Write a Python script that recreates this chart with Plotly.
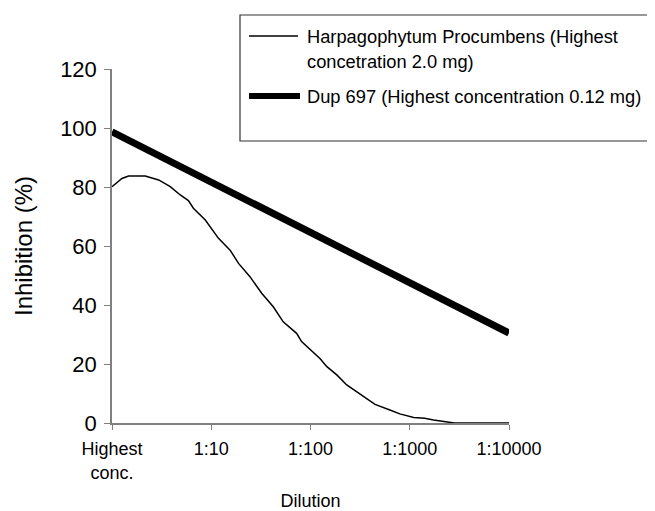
import plotly.graph_objects as go

# ---- data ----
dilution_ticks = [0, 1, 2, 3, 4]
dilution_labels = ["Highest<br>conc.", "1:10", "1:100", "1:1000", "1:10000"]

# Harpagophytum Procumbens (x = log10 of dilution factor)
harpago_x = [0, 0.1, 0.167, 0.335, 0.47, 0.587, 0.688, 0.77, 0.82, 0.94, 1.073,
             1.19, 1.275, 1.39, 1.508, 1.625, 1.725, 1.86, 1.91, 2.095, 2.165,
             2.265, 2.365, 2.535, 2.65, 2.8, 2.9, 3.04, 3.15, 3.24, 3.36, 3.45, 4.0]
harpago_y = [80.1, 82.9, 83.7, 83.7, 82.4, 80.1, 77.3, 75.4, 72.8, 68.8, 62.6,
             58.6, 54.1, 49.6, 44.0, 39.4, 34.3, 30.4, 27.6, 21.9, 19.1,
             16.3, 12.9, 8.9, 6.3, 4.4, 3.1, 1.9, 1.6, 1.0, 0.4, 0.0, 0.0]

# Dup 697
dup_x = [0, 1, 2, 3, 4]
dup_y = [98.7, 81.6, 64.6, 47.6, 30.5]

names = ["Harpagophytum Procumbens (Highest concetration 2.0 mg)",
         "Dup 697 (Highest concentration 0.12 mg)"]

FONT = "Liberation Sans, Arial, sans-serif"
OFF = 8  # page body margin
W, H = 647, 503
L, T = 104, 61
R = W - (509 - OFF)
B = H - (423 - OFF)
pw, ph = W - L - R, H - T - B


def px(xs):  # screen pixel -> paper x
    return (xs - OFF - L) / pw


def py(ys):  # screen pixel -> paper y
    return (H - B - (ys - OFF)) / ph


fig = go.Figure()
fig.add_trace(go.Scatter(x=harpago_x, y=harpago_y, mode="lines", name=names[0],
                         line=dict(color="black", width=1.5), showlegend=False))
fig.add_trace(go.Scatter(x=dup_x, y=dup_y, mode="lines", name=names[1],
                         line=dict(color="black", width=7), showlegend=False))

# manual legend box
shapes = [
    dict(type="rect", xref="paper", yref="paper", x0=px(240), x1=px(670),
         y0=py(141), y1=py(15), line=dict(color="#333333", width=1.2),
         fillcolor="white", layer="above"),
    dict(type="line", xref="paper", yref="paper", x0=px(249), x1=px(298),
         y0=py(36), y1=py(36), line=dict(color="black", width=1.5)),
    dict(type="line", xref="paper", yref="paper", x0=px(249), x1=px(300),
         y0=py(96), y1=py(96), line=dict(color="black", width=6)),
]
annos = [
    dict(text="Harpagophytum Procumbens (Highest", x=px(305), y=py(37)),
    dict(text="concetration 2.0 mg)", x=px(305), y=py(62)),
    dict(text="Dup 697 (Highest concentration 0.12 mg)", x=px(305), y=py(96)),
]
annotations = [dict(a, xref="paper", yref="paper", xanchor="left", yanchor="middle",
                    showarrow=False, font=dict(family=FONT, size=18.3, color="black"))
               for a in annos]

fig.update_layout(
    width=W, height=H,
    margin=dict(l=L, r=R, t=T, b=B, autoexpand=False),
    paper_bgcolor="white", plot_bgcolor="white",
    font=dict(family=FONT, color="black"),
    shapes=shapes, annotations=annotations,
    xaxis=dict(range=[0, 4], tickmode="array", tickvals=dilution_ticks,
               ticktext=dilution_labels, showgrid=False, zeroline=False,
               showline=True, linecolor="#808080", linewidth=1.5,
               ticks="outside", ticklen=5, tickcolor="#808080", tickwidth=1.2,
               ticklabelstandoff=4,
               tickfont=dict(size=18, family=FONT),
               title=dict(text="Dilution", font=dict(size=18, family=FONT), standoff=18),
               automargin=False),
    yaxis=dict(range=[0, 120], tickvals=[0, 20, 40, 60, 80, 100, 120],
               showgrid=False, zeroline=False,
               showline=True, linecolor="#808080", linewidth=1.5,
               ticks="outside", ticklen=6, tickcolor="#808080", tickwidth=1.2,
               ticklabelstandoff=3,
               tickfont=dict(size=22, family=FONT),
               title=dict(text="Inhibition (%)", font=dict(size=24, family=FONT), standoff=21),
               automargin=False),
)

fig.write_html("out.html")
